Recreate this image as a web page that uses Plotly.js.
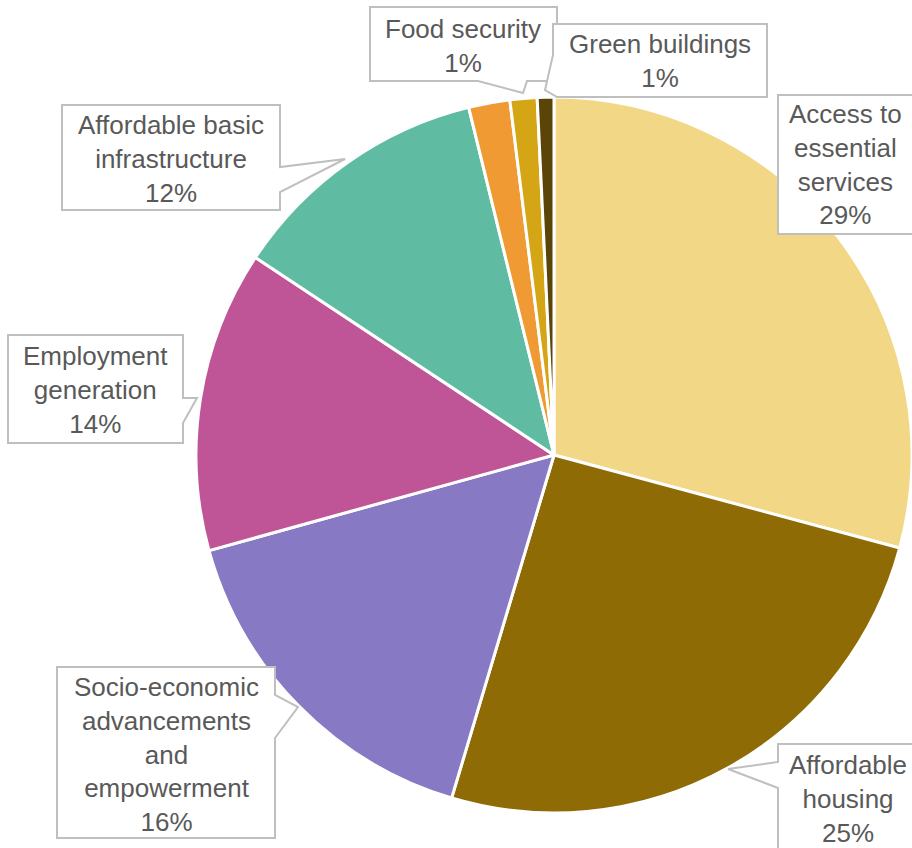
<!DOCTYPE html>
<html>
<head>
<meta charset="utf-8">
<script src="https://cdn.plot.ly/plotly-3.0.1.min.js"></script>
<style>html,body{margin:0;padding:0;background:#fff;}#chart{width:912px;height:848px;}</style>
</head>
<body>
<div id="chart"></div>
<script>
// ---- data ----
const categories = ["Access to essential services", "Affordable housing", "Socio-economic advancements and empowerment", "Employment generation", "Affordable basic infrastructure", "Other", "Food security", "Green buildings"];
const shares = [29.18, 25.43, 16.08, 13.6, 11.87, 1.86, 1.22, 0.75];
const labelLines = ["Access to<br>essential<br>services", "Affordable<br>housing", "Socio-economic<br>advancements<br>and<br>empowerment", "Employment<br>generation", "Affordable basic<br>infrastructure", null, "Food security", "Green buildings"];
const colors = ["#F2D886", "#8F6B06", "#8779C4", "#BF5597", "#5FBCA2", "#EF9A33", "#D4A514", "#5A4408"];

// ---- layout helpers (pixel -> paper) ----
const W = 912, H = 848;
const px = x => x / W;
const py = y => 1 - y / H;
function pathFrom(pts) {
  return "M" + pts.map(p => px(p[0]).toFixed(5) + "," + py(p[1]).toFixed(5)).join(" L") + " Z";
}

// callout boxes (pixel geometry) and text centres, per category index
const callouts = {
  0: {pts: [[778,95],[918,95],[918,234],[778,234]], tx: 845, ty: 165},
  1: {pts: [[778,744],[918,744],[918,852],[778,852],[778,788],[728,769],[778,762]], tx: 848, ty: 799},
  2: {pts: [[57,667],[275,667],[275,695],[298,707],[275,738],[275,838],[57,838]], tx: 166, ty: 754},
  3: {pts: [[8,335],[183,335],[183,398],[197,398],[183,423],[183,443],[8,443]], tx: 95, ty: 390},
  4: {pts: [[62,105],[280,105],[280,167],[345,159],[280,192],[280,210],[62,210]], tx: 171, ty: 159},
  6: {pts: [[370,7],[557,7],[557,81],[527,81],[523,93],[478,81],[370,81]], tx: 463, ty: 46},
  7: {pts: [[553,24],[767,24],[767,97],[557,97],[545,90],[553,55]], tx: 660, ty: 61}
};

const shapes = [];
const annotations = [];
[0,1,2,3,4,6,7].forEach(i => {
  const c = callouts[i];
  shapes.push({
    type: "path", xref: "paper", yref: "paper", layer: "above",
    path: pathFrom(c.pts),
    fillcolor: "#FFFFFF", line: {color: "#BFBFBF", width: 2}
  });
  annotations.push({
    xref: "paper", yref: "paper", x: px(c.tx), y: py(c.ty),
    xanchor: "center", yanchor: "middle", showarrow: false, align: "center",
    text: labelLines[i] + "<br>" + Math.round(shares[i]) + "%",
    font: {family: "Liberation Sans, Arial, sans-serif", size: 26, color: "#595959"}
  });
});

const trace = {
  type: "pie",
  labels: categories,
  values: shares,
  sort: false,
  direction: "clockwise",
  rotation: 0,
  textinfo: "none",
  hoverinfo: "label+percent",
  marker: {colors: colors, line: {color: "#FFFFFF", width: 3}},
  domain: {x: [196 / W, 912 / W], y: [1 - 813 / H, 1 - 97 / H]},
  showlegend: false
};

const layout = {
  width: W, height: H,
  margin: {l: 0, r: 0, t: 0, b: 0},
  paper_bgcolor: "#FFFFFF",
  plot_bgcolor: "#FFFFFF",
  showlegend: false,
  shapes: shapes,
  annotations: annotations
};

Plotly.newPlot("chart", [trace], layout, {displayModeBar: false, staticPlot: true});
</script>
</body>
</html>
